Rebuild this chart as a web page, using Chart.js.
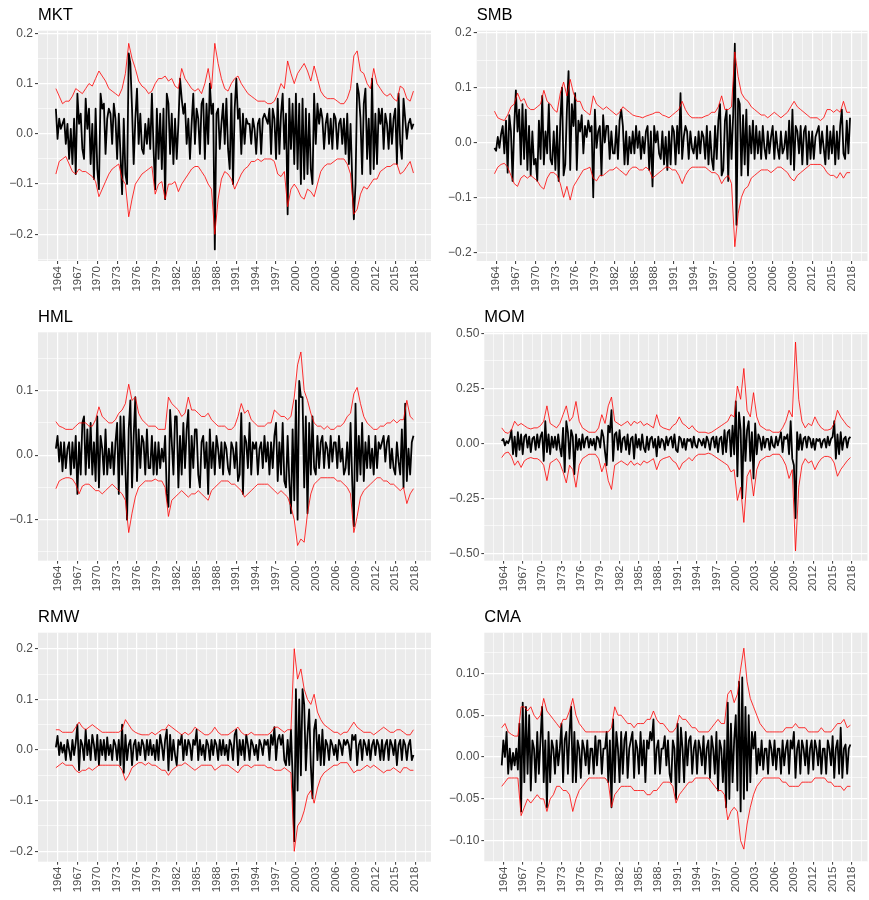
<!DOCTYPE html>
<html>
<head>
<meta charset="utf-8">
<script src="https://cdn.jsdelivr.net/npm/chart.js@4.4.1/dist/chart.umd.min.js"></script>
<style>
  html, body { margin: 0; padding: 0; background: #ffffff; }
  #page { position: relative; width: 869px; height: 900px; }
  #page canvas { position: absolute; }
</style>
</head>
<body>
<div id="page"></div>
<script>
// Factor returns (percent), one value per quarter from 1963.75 to 2017.75
const startYear = 1963.75;
const retStep = 0.25;
// Volatility bands (percent), one value per half year from 1963.75 to 2017.75
const bandStep = 0.5;

const mktRet = [5,
  -1,3,1,2, 3,-2,2,-5, 1,-6,3,-8, 8,2,4,-3, -5,7,1,5, -6,2,-9,5,
  -7,-11,8,5, 6,-4,3,5, 4,-2,6,3, -5,4,-4,-12, 3,-8,-10,16, 14,5,-6,3,
  9,-2,4,-3, -4,2,-2,3, -3,8,-3,-11, 5,-5,4,-7, 5,-13,8,6, -4,4,-6,3,
  -5,2,11,7, 4,6,-2,3, -5,2,8,-2, 5,3,-4,6, 7,-5,6,-2, 10,4,6,-23,
  4,5,-3,2, 6,-2,7,-3, -7,8,-10,5, 11,3,5,-4, 4,-2,3,2, 2,-2,3,1,
  -4,2,3,-4, 3,4,3,2, 5,-4,5,3, -5,7,-4,4, 8,-3,4,-16, 7,-3,6,-6,
  8,-7,6,-10, 7,-9,5,-8, 4,-7,-10,8, -2,6,2,5, 3,-3,2,4, -2,3,-3,4,
  3,-3,2,3, -2,3,-4,4, -6,2,-9,-17, -10,10,8,3, -8,6,9,-5, 3,-8,11,-7,
  4,-6,5,2, 5,-3,4,2, -3,4,-2,3, 5,-6,8,-2, -5,7,3,-1, 2,3,1,2];
const mktUpper = [9,
  7.5,6, 6.5,6.5, 7.5,9, 8.5,8, 9,10, 9.5,11,
  12.5,11.5, 10.5,9, 8.5,8, 7.5,9, 12,18, 15,13,
  10.5,9.5, 9,8, 8.5,10, 11,11, 11.5,10.5, 11,9.5,
  9,13, 11,10, 9,8.5, 9,8, 10,13, 9,18,
  14,11, 9,8.5, 10,11, 11.5,10, 9,8, 7.5,7,
  6.5,6.5, 6.5,6, 6,6.5, 8,10, 9,14.5, 12,10,
  12,13, 14,12.5, 10.5,13.5, 11,8.5, 7.5,7, 7,7,
  6.5,6, 6,7, 9,15.5, 16.5,12.5, 12,10, 9,13,
  10,9, 8,7.5, 8,7, 6.5,9.5, 9,7, 6.5,8.5];
const mktLower = [-8,
  -5.5,-5, -4.5,-6, -7.5,-8, -7,-7.5, -7.5,-8, -8.5,-9.5,
  -12.5,-11, -9.5,-8, -7,-6.5, -6,-9, -10,-16.5, -13,-10,
  -9,-8, -7.5,-7, -6.5,-12, -10,-9.5, -13,-10, -10,-9.5,
  -11.5,-10, -9,-8, -7,-6.5, -6.5,-7.5, -8.5,-10, -11,-20,
  -13,-9, -7.5,-8, -9,-11, -9.5,-8, -7,-6.5, -5.5,-5.5,
  -5,-5.5, -5,-5, -5,-5.5, -8,-8.5, -7.5,-14.5, -11,-10,
  -11,-12.5, -13,-11, -11.5,-12.5, -10,-7.5, -6.5,-6, -6,-5.5,
  -5,-5, -5,-6, -8,-16, -15,-12, -10.5,-11, -10,-9,
  -9,-7.5, -7,-6.5, -6.5,-6, -6,-8, -7.5,-6.5, -5.5,-7.8];

const smbRet = [-1,
  -1.5,1,-1,1.5, 3,-2,4,-5.5, 5,2,-7,3, 9.5,2,6,-4, 7,-3,6,-5, 3,-6,2,-4,
  -3,-7,4,-3, 8.5,-4,2,-2, 7,-3,-4,2, -5,3,-7,4, 10,-6,-4,6, 13,-5,7,3,
  9,-5,4,2, 5,-2,3,1, 4,2,3,-10, 6,-1,2,3, -6,5,0,3, 3,-3,2,-2,
  -2,3,-3,4, 6,3,-4,2, -4,1,-2,2, -2,3,-1,2, -3,1,-2,2, 3,-5,2,-8,
  3,0,2,-2, -3,2,-4,1, -5,2,-4,3, 2,-4,3,-2, 9,-3,1,3, 2,-3,2,-1,
  -2,1,-3,2, -2,2,1,-3, 3,-4,2,-3, -5,3,-3,4, 7,-6,-5,4, 6,-7,5,-3,
  5,18,-15,8, 7,-6,5,-4, 6,-6,3,-2, 4,-3,3,-2, 2,-3,3,-1, -3,2,-2,1,
  3,-3,2,-1, -3,2,-2,-1, 2,-3,4,-4, 6,-5,3,2, -2,3,-4,2, 3,-4,2,-3,
  2,-3,1,2, 3,-2,2,-1, -4,3,-3,2, -2,3,-4,2, -3,3,6,-2, -3,4,-2,4.5];
const smbUpper = [5.7,
  4.5,4.2, 4,5, 6.5,7, 9,7.5, 8,6.5, 6,6,
  6.5,7, 9.5,7.5, 7,6, 5.5,9, 11,8.5, 11.5,9,
  7.5,7.5, 6,5.5, 5,8.5, 7,6.5, 6,6.5, 6,5.5,
  5,5.5, 6.5,6, 5.5,5, 4.8,4.7, 4.5,4.8, 5,5.2,
  5.5,5.5, 5,4.8, 4.5,5, 5.5,6, 7.5,6, 5,4.5,
  4.5,4.5, 4.5,4.8, 5,5.5, 5.5,6.5, 8.5,6, 6,6.5,
  16.5,12, 9,8, 7.5,6.5, 6,5.5, 5,5, 4.5,5,
  5.5,5, 4.5,5, 5.5,6.5, 7.5,6.5, 6,5.5, 5,4.5,
  4.5,4.5, 4,4.5, 6,6, 5.5,6, 5.5,7.5, 5.5,5.5];
const smbLower = [-5.7,
  -4.5,-4, -3.8,-4.5, -6,-7.5, -8,-6.5, -6,-6.5, -6,-6.5,
  -7,-8, -8.5,-6.5, -5.5,-5.5, -6,-7.5, -10,-8, -10.5,-8,
  -7,-6, -5,-4.8, -4.5,-6.5, -7,-6, -6,-5.5, -5,-5,
  -4.5,-5, -5.5,-6, -5,-4.5, -4.5,-5, -5,-4.5, -5,-6.5,
  -6,-5.5, -5,-4.5, -4.5,-5, -5,-6, -7.5,-6, -5,-4.5,
  -4.5,-4.5, -4.5,-4.5, -5,-5.5, -5.5,-6, -7.5,-6.5, -6,-7.5,
  -19,-13, -10,-8.5, -8,-6.5, -6,-5.5, -5,-5, -5,-5.5,
  -5,-4.5, -4.5,-5, -5.5,-6.5, -7,-6, -5.5,-5, -4.5,-4,
  -4,-4, -4,-4.5, -5.5,-6, -6,-6.5, -5.5,-6.5, -5.5,-5.5];

const hmlRet = [1,
  3,-1,2,-2.5, 2,-2,1,2, -3,2,-2,3, -6,2,-3,5, 6,-3,4,-2, 5,-3,2,-4,
  6,-5,3,1, -3,4,-3,1, -2,2,-3,2, 5,-6,6,-3, 6,-2,-10,4, 8.5,-5,3,9,
  -4,4,-2,3, 2,-3,4,-2, -2,3,-3,2, -3,2,-2,1, -1,3,-6,-8, 7,2,-3,6,
  6,-5,3,-3, 5,-2,4,7, -5,3,-2,4, 4,-3,-5,2, 3,-2,2,-6, 4,-2,2,-3,
  3,1,-2,2, -3,2,1,-2, -3,2,1,-2, 2,-4,-3,6.5, -6,3,2,-2, 5,-3,2,1,
  2,-3,1,2, -2,3,-1,2, -3,2,-2,3, 5,-4,2,-3, 5,-4,-5,3, -4,-9,4,-7,
  8.5,-10,11.5,9, 9,-5,6,-9, 5,-3,6,-2, -3,3,-2,2, 3,-2,2,1, -2,3,-1,2,
  2,-2,3,-1, 1,-3,-2,2, -3,5,-4,-11, 8,-4,3,-3, 5,-4,2,-2, 3,-2,1,-3,
  3,-2,2,1, 2,3,-1,2, 3,-2,1,-2, -3,2,-1,-3, 4,-5,8,-4, 1,-3,2,3];
const hmlUpper = [5.2,
  4.5,4.3, 4,4, 4,4.5, 5,5, 5,4.5, 4.5,5.5,
  7.5,6, 5.5,5, 5,5.5, 6.5,7, 8,11, 8.5,9,
  6.5,5.5, 5,4.5, 4.5,4.5, 4,4, 4,9, 8,7.5,
  7,6, 6.5,9, 7,7, 6.5,6, 6,6.5, 5.5,5,
  4.5,4.5, 4.5,4, 4,4.5, 6,8, 6.5,7, 5.5,5,
  4.5,4.5, 4.5,5, 5,7, 6.5,6, 6,5.5, 6,9,
  14,16, 10,8.5, 6.5,5, 4.5,4.5, 4,4.5, 4,4,
  4.5,4.5, 5,6, 6.5,9.5, 10.5,8, 6,5, 4.5,4,
  4,4.5, 4.5,5, 5,5.5, 5,5.5, 5.5,8.5, 6,5.5];
const hmlLower = [-5.2,
  -4,-3.7, -3.5,-3.5, -3.7,-4.5, -6,-4.8, -4.5,-4.5, -5,-5.5,
  -5.5,-6, -5.5,-5, -4.5,-5, -5.5,-6, -7,-12, -9,-6.5,
  -5,-4.5, -4,-4, -4,-3.7, -4,-4, -5,-9.5, -7,-6.5,
  -6,-5.5, -6,-6.5, -6,-6, -5.5,-6, -6.5,-7, -5.5,-5,
  -4.5,-4, -4,-4, -4.5,-4.5, -5,-5.5, -6.5,-6, -5.5,-5,
  -4.5,-4.5, -4.5,-4.5, -5,-5.5, -6,-5.5, -6,-6.5, -8,-10,
  -14,-13, -13.5,-9, -6,-4.5, -4,-3.5, -3.5,-3.5, -3.5,-3.5,
  -4,-4, -4.5,-5, -6,-12, -9.5,-6.5, -5.5,-5, -4.5,-4,
  -3.5,-3.5, -4,-4, -4.5,-4.5, -5,-5.5, -5,-7.5, -6,-5.2];

const momRet = [1,
  2,-1,1,0, 2,6,-5,3, -6,5,-3,4, -5,3,4,-2, 3,-4,2,3, -3,4,-2,3,
  5,-8,10,-4, 4,-5,3,-2, 3,-3,4,-2, -6,7,-13,10, 5,-7,6,3, -14,4,-3,2,
  -3,4,-2,2, 3,-2,2,-1, 2,-3,3,2, -2,6,3,-4, -10,8,5,15, -8,4,5,-3,
  6,-4,2,3, -3,4,-5,2, 3,-7,4,-2, 2,-3,4,-2, -4,3,-3,2, 3,-2,2,-6,
  3,-2,2,1, -3,3,-1,2, 3,-2,4,-3, -4,3,2,-2, 2,-3,2,1, 2,-2,3,-1,
  -2,2,1,-1, 2,-2,3,1, -3,2,3,-2, 3,-4,2,3, -5,6,-4,5, 6,-6,8,-5,
  19,-15,14,6, -25,12,-8,6, 10,-8,5,-16, 9,-5,4,2, -3,3,-2,2, 2,-3,3,-1,
  -2,3,-1,2, 5,-4,3,2, 4,-5,10,-7, -10,-34,5,-3, 4,-3,2,3, -2,3,2,-2,
  2,-3,2,1, 2,-2,1,2, -2,3,-1,2, 3,10,-7,4, -5,5,-3,2, 3,-2,2,3];
const momUpper = [7,
  5,4.5, 6,10, 8,9, 8,7, 6.5,7, 7,8,
  10,17, 9,8, 7,9, 13,17, 10,12, 19,10,
  7,6, 5,5, 5,7, 13,9, 17,21, 10,9,
  8,9, 10,8, 10,9, 10,8, 9,8, 7,13,
  8,7, 6.5,6, 8,9, 12,9, 8,6.5, 8,6,
  5,5, 5,4.5, 5,6, 7,8, 9,10, 13,12,
  26,20, 34,15, 12,23, 12,8, 7,6, 6,5,
  5,5, 7,10, 15,12, 46,20, 10,7, 9,8,
  12,9, 7,6, 6,6.5, 9,15, 12,10, 8,7];
const momLower = [-6.5,
  -4.5,-4, -6,-10, -8,-11, -8,-7, -6.5,-7, -7,-8,
  -10,-17, -9,-8, -7,-9, -13,-18, -10,-12, -20,-10,
  -7,-6, -5,-5, -5,-7, -13,-9, -17,-21, -10,-9,
  -8,-9, -10,-8, -10,-9, -10,-8, -9,-8, -7,-12,
  -8,-7, -6.5,-6, -8,-9, -12,-9, -8,-6.5, -8,-6,
  -5,-5, -5,-4.5, -5,-6, -7,-8, -9,-10, -13,-12,
  -26,-20, -36,-15, -12,-24, -12,-8, -7,-6, -6,-5,
  -5,-5, -7,-10, -16,-12, -49,-20, -10,-7, -9,-8,
  -12,-9, -7,-6, -6,-6.5, -9,-15, -12,-10, -8,-6.5];

const rmwRet = [0.5,
  2.8,-1,1.5,-0.5, 1,-2,2,0, -2,2,-1,1.5, 5,-4,2,1, -2,4,-1,2, -2,3,1,-2,
  3,-3,2,-1, 2,-2,2.5,-1, 1,-2,2,1, -2,2,-3,5, -4.5,3,-2,1, 2,-3,1,2,
  -2,1.5,-1,2, 1,-2,2,-1, 2,-1,1,-2, 2,-2,3,1, -2,2,4,-4, 3,-2,2,-1,
  -3,2,1,3, -2,2,-1,2, 1,-2,2,1, 4,-2,2,-1, 1,-2,2,1, -2,2,-1,2,
  1,-2,2,-1, 2,-1,1,-2, 2,1,-2,3, 4,-3,2,-1, 2,-2,3,1, -2,2,1,-1,
  1,-2,2,1, -1,2,1,2, -2,3,1,4.5, -2,2,3,1, 3,-2,-3,2, -3,4,-5,-18,
  12,-8,10,-5, 12,9,-4,3, 8,-3,-9.5,4, 6,-2,3,-3, 4,-3,2,1, -2,2,1,-1,
  1,-2,2,1, -1,2,1,2, 1,-2,3,2, 3,-3,1,2, -2,2,1,-1, 2,-2,1,2,
  -1,2,1,-2, 2,-2,1,2, -2,2,1,-1, 2,-3,1,2, -2,2,1,-2, 1,2,-2,-1];
const rmwUpper = [4,
  4,3.5, 3.5,3.5, 3.5,4.5, 5.5,4.5, 4,4.5, 5,4.5,
  4,3.5, 3.5,3.5, 3.5,3.5, 3.5,4, 6,5, 4,3.5,
  3.2,3, 3,3, 3.5,3, 3.5,4, 4,5, 4.5,4,
  3.5,3, 3.5,3, 3.5,4.5, 4,3.5, 3,3, 3.5,4.5,
  3.5,3, 3,3, 3.5,4, 4.5,3.5, 3,3, 3.5,3,
  3,3, 3,3, 3.5,4.5, 4.5,4, 3.5,4, 4,20,
  14,16, 12,10, 9,11, 7.5,6, 5,4.5, 4,3.5,
  3.5,3, 3.5,3.5, 4.5,5.5, 4.5,4, 3.5,3.5, 3.5,3,
  3.5,4, 4.5,4, 3.5,3.5, 4,4, 3.5,3, 3,4];
const rmwLower = [-3.5,
  -3,-2.5, -3,-3, -3,-4, -4.5,-4, -4,-3.5, -4,-3.5,
  -3,-3, -3,-3, -3,-3, -3,-4, -6,-5, -3.5,-3,
  -2.5,-2.5, -3,-2.5, -3,-3, -3.5,-4, -4,-5, -4,-3.5,
  -3,-3, -2.5,-3, -3.5,-4, -3.5,-3, -3,-3, -3,-4,
  -3.5,-3, -3,-3, -3.5,-4, -4.5,-3.5, -3,-3, -3.5,-3,
  -3,-3, -3,-3.5, -3.5,-4, -4,-4, -3.5,-4, -4.5,-20,
  -15,-14, -12,-9, -8,-10.5, -7.5,-5.5, -4.5,-4, -3.5,-3,
  -3,-2.5, -2.5,-2.5, -3.5,-4.5, -4,-4, -3.5,-3, -3.5,-3,
  -3.5,-4, -4.5,-4, -4,-3.5, -4,-4.5, -3.5,-3.5, -4,-4];

const cmaRet = [-1,
  2,0,3,-2, 1,-1.5,0.5,-1, 1,-1.5,4,-6.5, 6.5,-3,6,-2, 5,-4,2,1, -3,3,-2,2,
  6,-3,2,-6, 3,-3,2,1, -2,2,-1,1, 4,-3,2,3, -2,3,6,-3, 3,-3,2,1,
  -2.5,2,1,-1, 2,-2,1,1, -2,2.5,-1,2, 2,-2,1,1, 3,-3,2,-6, 4.5,-3,3,1,
  -3,3,-2,2, 3,-2.5,1,2, 3,-2.5,2,1, -2,3,-1,2, -3,2,1,3, 2,4.5,-2,1,
  2,-2,1,1, 2.5,-1,2,-2, -3,2,1,-5, 4,-3,3.5,1, -3,3,-1,2, 2.5,-2,1,2,
  -2,2,1,-1, 2.5,-2,1,2, -2.5,2.5,1,-2, 3,-4,2,1, -3,2,-6,6.5, -5,4,-3,2,
  5,-4,9,-6.5, 9.5,-5,6,-4, 5,-3,3,1, 3,-2,1,-1, 2,-1.5,1,1, -2,2,1,-1,
  2,-1.5,1,1, -2,2,-1,1, 2,-2,2,1, 3,-2.5,1,2, -2,2,1,-1, 2,-2,1,2,
  -1.5,2,1,-1, 2,-2,1,1, -2,2,1,-1, 2.5,-2.5,1,2, -2,3.5,-2.5,1, 1.5,-2,1,1.5];
const cmaUpper = [3.5,
  4,3, 2.7,2.5, 2.5,6, 6,5.5, 6,5, 4.5,5,
  7,5.5, 5,4.5, 4,3.5, 4.5,4.5, 5.5,7, 5,4,
  3.5,3, 3,3, 3,3, 3,3, 3,3.5, 6,5,
  5,4.5, 4,4, 3.5,4, 4,4, 4.5,4.5, 5.5,4.5,
  4,4, 3.5,3, 3,3.5, 5,4.5, 4.5,4, 3.5,3.5,
  3,3, 3,3, 3.5,4, 4.5,4, 4,7.5, 8,6.5,
  7.5,10.5, 13,9, 7,6, 5,4, 3.5,3, 3,3,
  3,3, 3,3.5, 3.5,3.5, 4,3.5, 3.5,3.5, 3,3,
  3,3, 3.5,3, 3,3, 3.5,4, 4,4.5, 3.5,3.8];
const cmaLower = [-3.5,
  -3,-2.5, -2.5,-2.5, -2.5,-7, -6,-5, -5.5,-5, -4.5,-5,
  -5,-6.5, -5,-4.5, -3.5,-3.5, -4,-4, -4.5,-6.5, -5,-4,
  -3.5,-3, -2.5,-2.5, -2.5,-2.5, -2.5,-2.5, -3,-6, -4.5,-4,
  -3.5,-3.5, -3.5,-3.5, -4,-4, -4,-4, -4.5,-4.5, -4,-4,
  -3.5,-3, -3,-3, -3.5,-5.5, -4.5,-4, -3.5,-3, -3,-2.5,
  -2.5,-2.5, -2.5,-2.5, -3,-3.5, -4,-4, -4.5,-7.5, -6.5,-6,
  -6.5,-10, -11,-8, -6,-4.5, -3.5,-3, -2.5,-2.5, -2.5,-2.5,
  -2.5,-2.5, -3,-3, -3.5,-3.5, -3.5,-3.5, -3,-3, -3,-3,
  -2.5,-2.5, -2.5,-2.5, -3,-3, -3.5,-3.5, -3.5,-4, -3.5,-3.5];

// x axis: labelled every 3 years, minor grid half way between
const yearTickBase = 1964;
const yearTickStep = 3;
const xRange = [1961.05, 2020.4];

const panels = [
  { name: 'MKT', ret: mktRet, upper: mktUpper, lower: mktLower, yMin: -0.253, yMax: 0.2052, yStep: 0.1, dec: 1, col: 0, row: 0, plotLeft: 38 },
  { name: 'SMB', ret: smbRet, upper: smbUpper, lower: smbLower, yMin: -0.216, yMax: 0.2037, yStep: 0.1, dec: 1, col: 1, row: 0, plotLeft: 476.7 },
  { name: 'HML', ret: hmlRet, upper: hmlUpper, lower: hmlLower, yMin: -0.1636, yMax: 0.1905, yStep: 0.1, dec: 1, col: 0, row: 1, plotLeft: 38 },
  { name: 'MOM', ret: momRet, upper: momUpper, lower: momLower, yMin: -0.534, yMax: 0.5045, yStep: 0.25, dec: 2, col: 1, row: 1, plotLeft: 484.3 },
  { name: 'RMW', ret: rmwRet, upper: rmwUpper, lower: rmwLower, yMin: -0.2205, yMax: 0.2316, yStep: 0.1, dec: 1, col: 0, row: 2, plotLeft: 38 },
  { name: 'CMA', ret: cmaRet, upper: cmaUpper, lower: cmaLower, yMin: -0.125, yMax: 0.1485, yStep: 0.05, dec: 2, col: 1, row: 2, plotLeft: 484.3 }
];

// page grid: canvas boxes and plot edges in page pixels
const rows = [
  { top: 0, h: 302, plotTop: 30.7, plotBottom: 261 },
  { top: 302, h: 302, plotTop: 332.3, plotBottom: 560.7 },
  { top: 604, h: 296, plotTop: 632.7, plotBottom: 861.7 }
];
const cols = [
  { left: 0, w: 434, plotRight: 431 },
  { left: 434, w: 435, plotRight: 867.5 }
];

const FONT = '"Liberation Sans", Arial, Helvetica, sans-serif';
const TEXT_GREY = '#4d4d4d';
const TICK_GREY = '#333333';

const toPoints = (vals, step) => vals.map((v, i) => ({ x: startYear + i * step, y: v / 100 }));

function yTicks(min, max, step) {
  const half = step / 2, out = [];
  for (let k = Math.ceil(min / half - 1e-9); k * half <= max + 1e-9; k++) {
    out.push({ value: k * half, main: k % 2 === 0 });
  }
  return out;
}

function xTicks(min, max) {
  const half = yearTickStep / 2, out = [];
  for (let k = Math.ceil((min - yearTickBase) / half); yearTickBase + k * half <= max; k++) {
    out.push({ value: yearTickBase + k * half, main: k % 2 === 0 });
  }
  return out;
}

const fmt = (v, dec) => (Math.abs(v) < 1e-9 ? 0 : v).toFixed(dec).replace('-', '\u2212');

// grey panel background behind the grid
const panelBg = {
  id: 'panelBg',
  beforeDraw(chart) {
    const { ctx, chartArea: a } = chart;
    ctx.save();
    ctx.fillStyle = '#ebebeb';
    ctx.fillRect(a.left, a.top, a.right - a.left, a.bottom - a.top);
    ctx.restore();
  }
};

// factor name above the panel, flush with its left edge
const panelTitle = {
  id: 'panelTitle',
  afterDraw(chart, args, opts) {
    const { ctx, chartArea: a } = chart;
    ctx.save();
    ctx.font = '16.5px ' + FONT;
    ctx.fillStyle = '#000000';
    ctx.textBaseline = 'alphabetic';
    ctx.textAlign = 'left';
    ctx.fillText(opts.text, a.left, a.top - 10.3);
    ctx.restore();
  }
};

const gridWidth = c => (c.tick && c.tick.main ? 1.2 : 0.6);
const tickColor = c => (c.tick && c.tick.main ? TICK_GREY : 'rgba(0,0,0,0)');

const page = document.getElementById('page');

panels.forEach(p => {
  const r = rows[p.row], c = cols[p.col];
  const canvas = document.createElement('canvas');
  canvas.width = c.w;
  canvas.height = r.h;
  canvas.style.left = c.left + 'px';
  canvas.style.top = r.top + 'px';
  page.appendChild(canvas);

  const yAxisWidth = p.plotLeft - c.left;
  const xAxisHeight = r.top + r.h - r.plotBottom;

  new Chart(canvas, {
    type: 'line',
    data: {
      datasets: [
        { data: toPoints(p.upper, bandStep), borderColor: '#ff0000', borderWidth: 0.8 },
        { data: toPoints(p.lower, bandStep), borderColor: '#ff0000', borderWidth: 0.8 },
        { data: toPoints(p.ret, retStep), borderColor: '#000000', borderWidth: 1.8 }
      ]
    },
    options: {
      responsive: false,
      animation: false,
      events: [],
      elements: {
        point: { radius: 0 },
        line: { tension: 0, borderJoinStyle: 'round', fill: false }
      },
      layout: {
        autoPadding: false,
        padding: { left: 0, top: r.plotTop - r.top, right: c.left + c.w - c.plotRight, bottom: 0 }
      },
      plugins: {
        legend: { display: false },
        tooltip: { enabled: false },
        panelTitle: { text: p.name }
      },
      scales: {
        x: {
          type: 'linear',
          min: xRange[0],
          max: xRange[1],
          bounds: 'data',
          afterBuildTicks: s => { s.ticks = xTicks(s.min, s.max); },
          afterFit: s => { s.height = xAxisHeight; s.paddingLeft = 0; s.paddingRight = 0; },
          border: { display: false },
          grid: { color: '#ffffff', lineWidth: gridWidth, tickColor: tickColor, tickWidth: 1, tickLength: 3 },
          ticks: {
            autoSkip: false,
            minRotation: 90,
            maxRotation: 90,
            padding: 2,
            color: TEXT_GREY,
            font: { family: FONT, size: 11.5 },
            callback: (v, i, ticks) => (ticks[i].main ? String(v) : '')
          }
        },
        y: {
          type: 'linear',
          min: p.yMin,
          max: p.yMax,
          bounds: 'data',
          afterBuildTicks: s => { s.ticks = yTicks(s.min, s.max, p.yStep); },
          afterFit: s => { s.width = yAxisWidth; s.paddingTop = 0; s.paddingBottom = 0; },
          border: { display: false },
          grid: { color: '#ffffff', lineWidth: gridWidth, tickColor: tickColor, tickWidth: 1, tickLength: 3 },
          ticks: {
            autoSkip: false,
            padding: 2,
            color: TEXT_GREY,
            font: { family: FONT, size: 12 },
            callback: (v, i, ticks) => (ticks[i].main ? fmt(v, p.dec) : '')
          }
        }
      }
    },
    plugins: [panelBg, panelTitle]
  });
});
</script>
</body>
</html>
